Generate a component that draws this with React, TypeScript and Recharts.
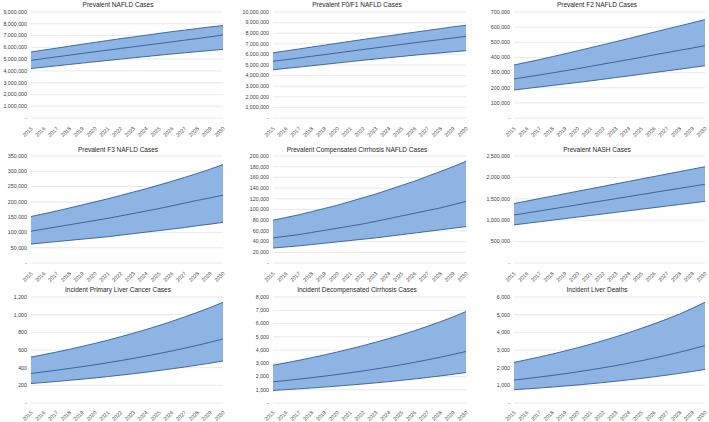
import React from 'react';
import {
  ComposedChart,
  Area,
  Line,
  XAxis,
  YAxis,
  CartesianGrid,
} from 'recharts';

const years = [
  '2015', '2016', '2017', '2018', '2019', '2020', '2021', '2022',
  '2023', '2024', '2025', '2026', '2027', '2028', '2029', '2030',
];

// Prevalent NAFLD Cases
const naflLow = [4200000, 4315000, 4430000, 4545000, 4660000, 4775000, 4890000, 5000000, 5110000, 5220000, 5330000, 5435000, 5535000, 5635000, 5730000, 5820000];
const naflMid = [4900000, 5045000, 5190000, 5335000, 5480000, 5625000, 5765000, 5905000, 6045000, 6185000, 6325000, 6465000, 6605000, 6745000, 6895000, 7050000];
const naflHigh = [5600000, 5770000, 5930000, 6100000, 6260000, 6420000, 6580000, 6740000, 6880000, 7030000, 7180000, 7330000, 7460000, 7600000, 7730000, 7850000];
const naflTicks = [0, 1000000, 2000000, 3000000, 4000000, 5000000, 6000000, 7000000, 8000000, 9000000];

// Prevalent F0/F1 NAFLD Cases
const f01Low = [4550000, 4680000, 4800000, 4930000, 5060000, 5190000, 5320000, 5450000, 5570000, 5690000, 5810000, 5930000, 6040000, 6140000, 6250000, 6350000];
const f01Mid = [5350000, 5500000, 5660000, 5820000, 5980000, 6140000, 6300000, 6460000, 6620000, 6780000, 6940000, 7100000, 7250000, 7400000, 7550000, 7700000];
const f01High = [6150000, 6330000, 6510000, 6690000, 6870000, 7050000, 7230000, 7410000, 7580000, 7750000, 7920000, 8090000, 8260000, 8430000, 8600000, 8750000];
const f01Ticks = [0, 1000000, 2000000, 3000000, 4000000, 5000000, 6000000, 7000000, 8000000, 9000000, 10000000];

// Prevalent F2 NAFLD Cases
const f2Low = [185000, 195000, 205000, 215000, 225000, 235000, 245000, 256000, 267000, 278000, 289000, 300000, 311000, 322000, 334000, 345000];
const f2Mid = [258000, 271000, 284000, 298000, 312000, 326000, 341000, 356000, 371000, 386000, 401000, 417000, 432000, 447000, 462000, 478000];
const f2High = [350000, 368000, 386000, 405000, 424000, 444000, 464000, 484000, 504000, 525000, 546000, 567000, 588000, 608000, 629000, 650000];
const f2Ticks = [0, 100000, 200000, 300000, 400000, 500000, 600000, 700000];

// Prevalent F3 NAFLD Cases
const f3Low = [62000, 66000, 70000, 74000, 78000, 82000, 86000, 91000, 96000, 101000, 106000, 111000, 116000, 122000, 127000, 133000];
const f3Mid = [104000, 111000, 118000, 125000, 132000, 139000, 146000, 154000, 162000, 170000, 178000, 187000, 196000, 205000, 213000, 222000];
const f3High = [152000, 161000, 170000, 180000, 190000, 200000, 210000, 221000, 232000, 243000, 255000, 267000, 280000, 293000, 307000, 322000];
const f3Ticks = [0, 50000, 100000, 150000, 200000, 250000, 300000, 350000];

// Prevalent Compensated Cirrhosis NAFLD Cases
const ccLow = [28000, 30000, 32000, 34500, 37000, 39500, 42000, 44500, 47000, 50000, 53000, 56000, 59000, 62000, 65000, 68000];
const ccMid = [47000, 50000, 53000, 57000, 61000, 65000, 69000, 73000, 78000, 83000, 88000, 93000, 98000, 103000, 109000, 115000];
const ccHigh = [80000, 85000, 90000, 96000, 102000, 108000, 115000, 122000, 129000, 137000, 145000, 153000, 162000, 171000, 180000, 190000];
const ccTicks = [0, 20000, 40000, 60000, 80000, 100000, 120000, 140000, 160000, 180000, 200000];

// Prevalent NASH Cases
const nashLow = [890000, 927000, 963000, 1000000, 1037000, 1073000, 1110000, 1147000, 1183000, 1220000, 1257000, 1293000, 1330000, 1367000, 1403000, 1440000];
const nashMid = [1120000, 1168000, 1216000, 1264000, 1312000, 1360000, 1408000, 1456000, 1504000, 1552000, 1600000, 1648000, 1696000, 1744000, 1792000, 1840000];
const nashHigh = [1390000, 1447000, 1505000, 1562000, 1619000, 1677000, 1734000, 1791000, 1849000, 1906000, 1963000, 2021000, 2078000, 2135000, 2193000, 2250000];
const nashTicks = [0, 500000, 1000000, 1500000, 2000000, 2500000];

// Incident Primary Liver Cancer Cases
const hccLow = [220, 232, 244, 257, 270, 284, 299, 315, 332, 349, 368, 387, 407, 429, 451, 475];
const hccMid = [335, 353, 371, 391, 411, 433, 456, 480, 505, 532, 560, 589, 620, 653, 688, 725];
const hccHigh = [520, 548, 577, 608, 641, 675, 711, 750, 790, 832, 877, 924, 974, 1026, 1081, 1140];
const hccTicks = [0, 200, 400, 600, 800, 1000, 1200];

// Incident Decompensated Cirrhosis Cases
const dccLow = [950, 1008, 1069, 1134, 1202, 1275, 1353, 1435, 1522, 1614, 1712, 1816, 1926, 2043, 2167, 2300];
const dccMid = [1600, 1698, 1801, 1911, 2028, 2151, 2283, 2422, 2570, 2726, 2893, 3069, 3256, 3455, 3666, 3890];
const dccHigh = [2850, 3030, 3220, 3420, 3630, 3850, 4085, 4330, 4590, 4865, 5155, 5460, 5785, 6130, 6500, 6900];
const dccTicks = [0, 1000, 2000, 3000, 4000, 5000, 6000, 7000, 8000];

// Incident Liver Deaths
const deathLow = [750, 798, 849, 903, 961, 1022, 1088, 1157, 1231, 1310, 1393, 1482, 1577, 1678, 1785, 1900];
const deathMid = [1300, 1382, 1469, 1561, 1660, 1764, 1875, 1993, 2119, 2252, 2394, 2545, 2705, 2876, 3057, 3250];
const deathHigh = [2300, 2450, 2605, 2770, 2945, 3130, 3325, 3530, 3750, 3980, 4225, 4480, 4750, 5035, 5360, 5700];
const deathTicks = [0, 1000, 2000, 3000, 4000, 5000, 6000];

const FILL = '#8db4e2';
const LINE = '#2f5c99';
const FONT = '"Liberation Sans", Arial, sans-serif';
const TEXT = '#404040';
const TITLE = '#262626';

const buildRows = (low: number[], mid: number[], high: number[]) =>
  years.map((y, i) => ({ year: y, band: [low[i], high[i]], low: low[i], mid: mid[i], high: high[i] }));

const fmt = (v: number) => (v === 0 ? '-' : v.toLocaleString('en-US'));

// layout per column / row of the 3x3 grid
const colLeft = [0, 236, 472];
const colWidth = [236, 236, 237];
const colAxisWidth = [31, 37, 42];
const colRight = [13, 6, 4];
const colTitleX = [118, 121, 125];
const rowTop = [0, 140, 280];
const rowHeight = [140, 140, 142];
const rowPlotTop = [12, 16, 17];
const rowPlotBottom = [118, 123, 123];
const rowTickDy = [3, 3, 2];
const rowTitleY = [5, 10, 10];

const makeXTick = (dy: number) => (props: any) => {
  const { x, y, payload } = props;
  return (
    <g transform={`translate(${x + 2},${y + dy})`}>
      <text
        transform="rotate(-45)"
        textAnchor="end"
        fontSize={5.3}
        fill={TEXT}
        fontFamily={FONT}
      >
        {payload.value}
      </text>
    </g>
  );
};
const xTicks = rowTickDy.map(makeXTick);

interface PanelProps {
  title: string;
  low: number[];
  mid: number[];
  high: number[];
  ticks: number[];
  row: number;
  col: number;
}

const Panel: React.FC<PanelProps> = ({ title, low, mid, high, ticks, row, col }) => {
  const data = buildRows(low, mid, high);
  const w = colWidth[col];
  const h = rowHeight[row];
  const axisH = h - rowPlotBottom[row];
  return (
    <div style={{ position: 'absolute', left: colLeft[col], top: rowTop[row], width: w, height: h }}>
      <ComposedChart
        width={w}
        height={h}
        data={data}
        margin={{ top: rowPlotTop[row], right: colRight[col], bottom: 0, left: 0 }}
      >
        <CartesianGrid vertical={false} stroke="#e3e3e3" strokeWidth={0.8} />
        <XAxis
          dataKey="year"
          scale="point"
          padding={{ left: 0, right: 0 }}
          axisLine={false}
          tickLine={false}
          interval={0}
          height={axisH}
          tick={xTicks[row]}
        />
        <YAxis
          width={colAxisWidth[col]}
          domain={[0, ticks[ticks.length - 1]]}
          ticks={ticks}
          interval={0}
          axisLine={false}
          tickLine={false}
          tickSize={0}
          tickMargin={4}
          tickFormatter={fmt}
          tick={{ fontSize: 5.3, fill: TEXT, fontFamily: FONT }}
        />
        <Area
          dataKey="band"
          fill={FILL}
          fillOpacity={1}
          stroke="none"
          type="linear"
          isAnimationActive={false}
        />
        <Line dataKey="high" stroke={LINE} strokeWidth={0.9} dot={false} type="linear" isAnimationActive={false} />
        <Line dataKey="mid" stroke={LINE} strokeWidth={0.9} dot={false} type="linear" isAnimationActive={false} />
        <Line dataKey="low" stroke={LINE} strokeWidth={0.9} dot={false} type="linear" isAnimationActive={false} />
      </ComposedChart>
      <div
        style={{
          position: 'absolute',
          left: colTitleX[col] - 100,
          width: 200,
          top: rowTitleY[row] - 4,
          lineHeight: '8px',
          fontSize: 6.5,
          textAlign: 'center',
          color: TITLE,
          fontFamily: FONT,
          whiteSpace: 'nowrap',
        }}
      >
        {title}
      </div>
    </div>
  );
};

export default function App() {
  return (
    <div style={{ position: 'absolute', left: 0, top: 0, width: 709, height: 422, background: '#fff' }}>
      <style>{'.recharts-surface { overflow: visible; }'}</style>
      <Panel title="Prevalent NAFLD Cases" low={naflLow} mid={naflMid} high={naflHigh} ticks={naflTicks} row={0} col={0} />
      <Panel title="Prevalent F0/F1 NAFLD Cases" low={f01Low} mid={f01Mid} high={f01High} ticks={f01Ticks} row={0} col={1} />
      <Panel title="Prevalent F2 NAFLD Cases" low={f2Low} mid={f2Mid} high={f2High} ticks={f2Ticks} row={0} col={2} />
      <Panel title="Prevalent F3 NAFLD Cases" low={f3Low} mid={f3Mid} high={f3High} ticks={f3Ticks} row={1} col={0} />
      <Panel title="Prevalent Compensated Cirrhosis NAFLD Cases" low={ccLow} mid={ccMid} high={ccHigh} ticks={ccTicks} row={1} col={1} />
      <Panel title="Prevalent NASH Cases" low={nashLow} mid={nashMid} high={nashHigh} ticks={nashTicks} row={1} col={2} />
      <Panel title="Incident Primary Liver Cancer Cases" low={hccLow} mid={hccMid} high={hccHigh} ticks={hccTicks} row={2} col={0} />
      <Panel title="Incident Decompensated Cirrhosis Cases" low={dccLow} mid={dccMid} high={dccHigh} ticks={dccTicks} row={2} col={1} />
      <Panel title="Incident Liver Deaths" low={deathLow} mid={deathMid} high={deathHigh} ticks={deathTicks} row={2} col={2} />
    </div>
  );
}
